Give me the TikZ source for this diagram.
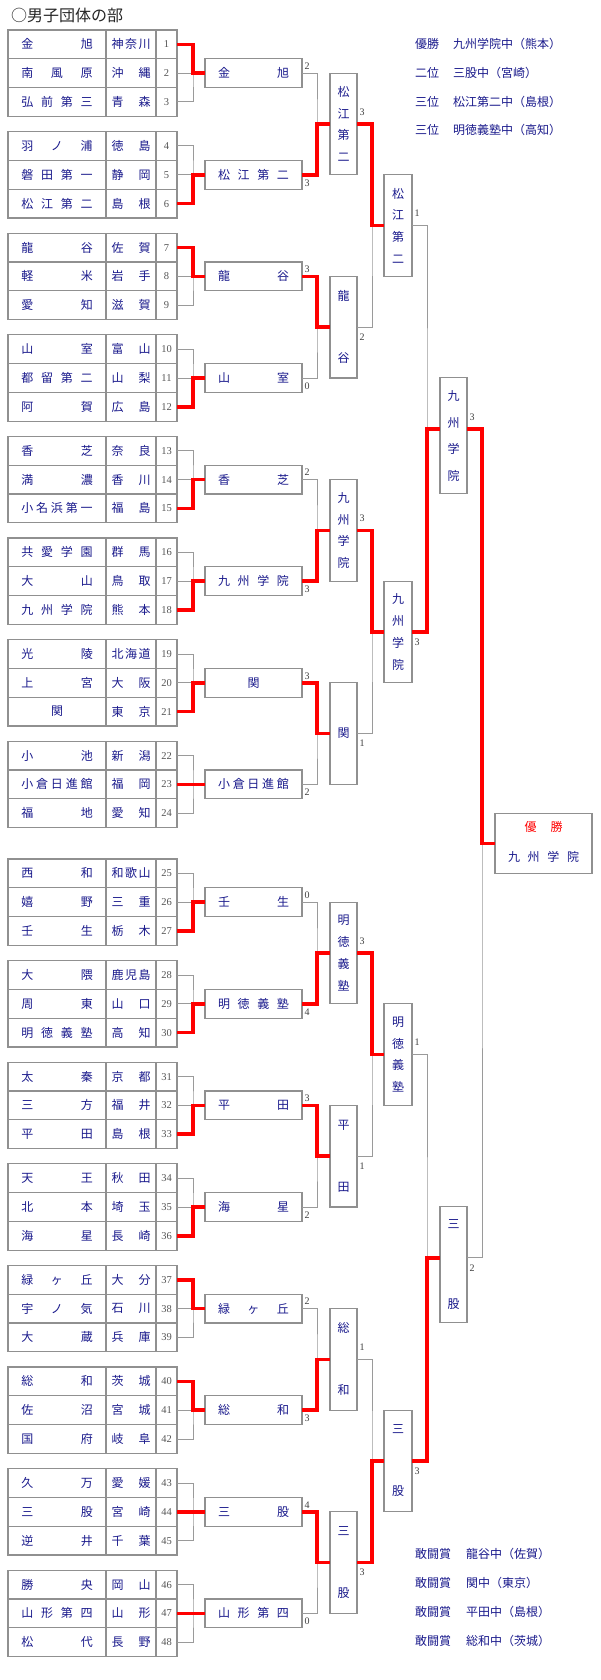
\documentclass[tikz,border=0pt]{standalone}
\usepackage{fontspec}
\setmainfont{Liberation Serif}
\newfontfamily\jp{Noto Sans CJK JP}
\usetikzlibrary{calc}
\definecolor{navy}{HTML}{1A1A8C}
\definecolor{lgray}{HTML}{9A9A9A}
\definecolor{bgray}{HTML}{909090}
\definecolor{numgray}{HTML}{555555}
\tikzset{
 bx/.style={draw=bgray, line width=1.2pt, inner sep=0pt, outer sep=0pt, text=navy, font=\jp\fontsize{12}{12}\selectfont},
 namecell/.style={bx, minimum width=98pt, minimum height=28.8pt},
 prefcell/.style={bx, minimum width=50pt, minimum height=28.8pt},
 numcell/.style={bx, minimum width=21pt, minimum height=28.8pt, text=numgray, font=\fontsize{10.5}{10.5}\selectfont},
 wbox/.style={bx, minimum width=97pt, minimum height=28.8pt},
 vbox/.style={bx, minimum width=27pt, align=center},
 gl/.style={draw=lgray, line width=1pt},
 rl/.style={draw=red, line width=3.6pt},
 score/.style={inner sep=0pt, text=black!75, font=\fontsize{10}{10}\selectfont},
 info/.style={anchor=west, inner sep=0pt, text=navy, font=\jp\fontsize{12}{12}\selectfont},
}
\begin{document}
\begin{tikzpicture}[x=1pt,y=-1pt]
\fill[white] (0,0) rectangle (600,1680);
\useasboundingbox (0,0) rectangle (600,1680);
\node[anchor=west, inner sep=0pt, text=black!85, font=\jp\fontsize{16}{16}\selectfont] (title) at (11,15) {○男子団体の部};

\foreach \k/\na/\pa/\nb/\pb/\nc/\pc/\win/\wt in {
0/金\hfill 旭/神\hfill 奈\hfill 川/南\hfill 風\hfill 原/沖\hfill 縄/弘\hfill 前\hfill 第\hfill 三/青\hfill 森/0/金\hfill 旭,
1/羽\hfill ノ\hfill 浦/徳\hfill 島/磐\hfill 田\hfill 第\hfill 一/静\hfill 岡/松\hfill 江\hfill 第\hfill 二/島\hfill 根/2/松\hfill 江\hfill 第\hfill 二,
2/龍\hfill 谷/佐\hfill 賀/軽\hfill 米/岩\hfill 手/愛\hfill 知/滋\hfill 賀/0/龍\hfill 谷,
3/山\hfill 室/富\hfill 山/都\hfill 留\hfill 第\hfill 二/山\hfill 梨/阿\hfill 賀/広\hfill 島/2/山\hfill 室,
4/香\hfill 芝/奈\hfill 良/満\hfill 濃/香\hfill 川/小\hfill 名\hfill 浜\hfill 第\hfill 一/福\hfill 島/2/香\hfill 芝,
5/共\hfill 愛\hfill 学\hfill 園/群\hfill 馬/大\hfill 山/鳥\hfill 取/九\hfill 州\hfill 学\hfill 院/熊\hfill 本/2/九\hfill 州\hfill 学\hfill 院,
6/光\hfill 陵/北\hfill 海\hfill 道/上\hfill 宮/大\hfill 阪/\hfill 関\hfill/東\hfill 京/2/\hfill 関\hfill,
7/小\hfill 池/新\hfill 潟/小\hfill 倉\hfill 日\hfill 進\hfill 館/福\hfill 岡/福\hfill 地/愛\hfill 知/1/小\hfill 倉\hfill 日\hfill 進\hfill 館,
8/西\hfill 和/和\hfill 歌\hfill 山/嬉\hfill 野/三\hfill 重/壬\hfill 生/栃\hfill 木/2/壬\hfill 生,
9/大\hfill 隈/鹿\hfill 児\hfill 島/周\hfill 東/山\hfill 口/明\hfill 徳\hfill 義\hfill 塾/高\hfill 知/2/明\hfill 徳\hfill 義\hfill 塾,
10/太\hfill 秦/京\hfill 都/三\hfill 方/福\hfill 井/平\hfill 田/島\hfill 根/2/平\hfill 田,
11/天\hfill 王/秋\hfill 田/北\hfill 本/埼\hfill 玉/海\hfill 星/長\hfill 崎/2/海\hfill 星,
12/緑\hfill ヶ\hfill 丘/大\hfill 分/宇\hfill ノ\hfill 気/石\hfill 川/大\hfill 蔵/兵\hfill 庫/0/緑\hfill ヶ\hfill 丘,
13/総\hfill 和/茨\hfill 城/佐\hfill 沼/宮\hfill 城/国\hfill 府/岐\hfill 阜/0/総\hfill 和,
14/久\hfill 万/愛\hfill 媛/三\hfill 股/宮\hfill 崎/逆\hfill 井/千\hfill 葉/1/三\hfill 股,
15/勝\hfill 央/岡\hfill 山/山\hfill 形\hfill 第\hfill 四/山\hfill 形/松\hfill 代/長\hfill 野/1/山\hfill 形\hfill 第\hfill 四}{
  \pgfmathsetmacro\T{30+101.6*\k+16.2*(\k>7)}
  \pgfmathtruncatemacro\nA{3*\k+1}
  \pgfmathtruncatemacro\nB{3*\k+2}
  \pgfmathtruncatemacro\nC{3*\k+3}
  \node[namecell] (nm-\k-0) at (57,{\T+14.4}) {\makebox[71.5pt][s]{\na}};
  \node[namecell] (nm-\k-1) at (57,{\T+43.2}) {\makebox[71.5pt][s]{\nb}};
  \node[namecell] (nm-\k-2) at (57,{\T+72}) {\makebox[71.5pt][s]{\nc}};
  \node[prefcell] (pf-\k-0) at (131,{\T+14.4}) {\makebox[39pt][s]{\pa}};
  \node[prefcell] (pf-\k-1) at (131,{\T+43.2}) {\makebox[39pt][s]{\pb}};
  \node[prefcell] (pf-\k-2) at (131,{\T+72}) {\makebox[39pt][s]{\pc}};
  \node[numcell] (no-\k-0) at (166.5,{\T+14.4}) {\nA};
  \node[numcell] (no-\k-1) at (166.5,{\T+43.2}) {\nB};
  \node[numcell] (no-\k-2) at (166.5,{\T+72}) {\nC};
  \node[wbox] (w-\k) at (253.5,{\T+43.2}) {\makebox[71pt][s]{\wt}};
  \coordinate (j-\k) at (193,{\T+43.2});
  \draw[gl] (no-\k-0.east) -| (j-\k) |- (no-\k-2.east);
  \draw[gl] (no-\k-1.east) -- (w-\k.west);
  \ifnum\win=1
    \draw[rl] (no-\k-1.east) -- (w-\k.west);
  \else
    \draw[rl] (no-\k-\win.east) -| (j-\k) -- (w-\k.west);
  \fi
}

% second round
\foreach \p/\txt/\bs/\sa/\sb/\win in {
0/松\\江\\第\\二/21.7/2/3/1,
1/龍\\谷/62/3/0/0,
2/九\\州\\学\\院/21.7/2/3/1,
3/関/12/3/2/0,
4/明\\徳\\義\\塾/21.7/0/4/1,
5/平\\田/62/3/2/0,
6/総\\和/62/2/3/1,
7/三\\股/62/4/0/0}{
  \pgfmathsetmacro\M{124+203.2*\p+16.2*(\p>3)}
  \pgfmathtruncatemacro\ga{2*\p}
  \pgfmathtruncatemacro\gb{2*\p+1}
  \node[vbox, minimum height=101.6pt, font=\jp\fontsize{12}{\bs}\selectfont] (s-\p) at (343.5,\M) {\txt};
  \coordinate (cs-\p) at (317,\M);
  \draw[gl] (w-\ga.east) -| (cs-\p) |- (w-\gb.east);
  \draw[gl] (cs-\p) -- (s-\p.west);
  \ifnum\win=0
    \draw[rl] (w-\ga.east) -| (cs-\p) -- (s-\p.west);
  \else
    \draw[rl] (w-\gb.east) -| (cs-\p) -- (s-\p.west);
  \fi
  \node[score] (sw-\ga) at ($(w-\ga.east)+(5,-7)$) {\sa};
  \node[score] (sw-\gb) at ($(w-\gb.east)+(5,8)$) {\sb};
}

% third round
\foreach \q/\txt/\bs/\sa/\sb/\win in {
0/松\\江\\第\\二/21.7/3/2/0,
1/九\\州\\学\\院/21.7/3/1/0,
2/明\\徳\\義\\塾/21.7/3/1/0,
3/三\\股/62/1/3/1}{
  \pgfmathsetmacro\M{225.6+406.4*\q+16.2*(\q>1)}
  \pgfmathtruncatemacro\ga{2*\q}
  \pgfmathtruncatemacro\gb{2*\q+1}
  \node[vbox, minimum width=28pt, minimum height=101.6pt, font=\jp\fontsize{12}{\bs}\selectfont] (t-\q) at (398,\M) {\txt};
  \coordinate (ct-\q) at (372,\M);
  \draw[gl] (s-\ga.east) -| (ct-\q) |- (s-\gb.east);
  \draw[gl] (ct-\q) -- (t-\q.west);
  \ifnum\win=0
    \draw[rl] (s-\ga.east) -| (ct-\q) -- (t-\q.west);
  \else
    \draw[rl] (s-\gb.east) -| (ct-\q) -- (t-\q.west);
  \fi
  \node[score] (ss-\ga) at ($(s-\ga.east)+(5,-12)$) {\sa};
  \node[score] (ss-\gb) at ($(s-\gb.east)+(5,10)$) {\sb};
}

% semifinal
\foreach \h/\txt/\bs/\sa/\sb/\win in {
0/九\\州\\学\\院/26.5/1/3/1,
1/三\\股/80/1/3/1}{
  \pgfmathsetmacro\M{428.8+829*\h}
  \pgfmathtruncatemacro\ga{2*\h}
  \pgfmathtruncatemacro\gb{2*\h+1}
  \node[vbox, minimum height=116pt, font=\jp\fontsize{12}{\bs}\selectfont] (u-\h) at (453.5,{\M+7}) {\txt};
  \coordinate (ui-\h) at (440,\M);
  \coordinate (uo-\h) at (467,\M);
  \coordinate (cu-\h) at (427,\M);
  \draw[gl] (t-\ga.east) -| (cu-\h) |- (t-\gb.east);
  \draw[gl] (cu-\h) -- (ui-\h);
  \ifnum\win=0
    \draw[rl] (t-\ga.east) -| (cu-\h) -- (ui-\h);
  \else
    \draw[rl] (t-\gb.east) -| (cu-\h) -- (ui-\h);
  \fi
  \node[score] (st-\ga) at ($(t-\ga.east)+(5,-12)$) {\sa};
  \node[score] (st-\gb) at ($(t-\gb.east)+(5,10)$) {\sb};
}

% final
\node[bx, minimum width=97pt, minimum height=60pt] (f) at (543.5,843.3) {};
\node[inner sep=0pt, text=red, font=\jp\fontsize{12}{12}\selectfont] (f-t) at (543.7,827) {\makebox[38pt][s]{優\hfill 勝}};
\node[inner sep=0pt, text=navy, font=\jp\fontsize{12}{12}\selectfont] (f-n) at (543.5,857) {\makebox[71pt][s]{九\hfill 州\hfill 学\hfill 院}};
\coordinate (cf) at (482,843.3);
\draw[gl] (uo-0) -| (cf) |- (uo-1);
\draw[gl] (cf) -- (f.west);
\draw[rl] (uo-0) -| (cf) -- (f.west);
\node[score] (su-0) at ($(uo-0)+(5,-12)$) {3};
\node[score] (su-1) at ($(uo-1)+(5,10)$) {2};

% results
\node[info] (r1a) at (415,44) {優勝};
\node[info] (r1b) at (453,44) {九州学院中（熊本）};
\node[info] (r2a) at (415,73) {二位};
\node[info] (r2b) at (453,73) {三股中（宮崎）};
\node[info] (r3a) at (415,101.5) {三位};
\node[info] (r3b) at (453,101.5) {松江第二中（島根）};
\node[info] (r4a) at (415,130) {三位};
\node[info] (r4b) at (453,130) {明徳義塾中（高知）};
\node[info] (k1a) at (415,1554) {敢闘賞};
\node[info] (k1b) at (466,1554) {龍谷中（佐賀）};
\node[info] (k2a) at (415,1583) {敢闘賞};
\node[info] (k2b) at (466,1583) {関中（東京）};
\node[info] (k3a) at (415,1612) {敢闘賞};
\node[info] (k3b) at (466,1612) {平田中（島根）};
\node[info] (k4a) at (415,1641) {敢闘賞};
\node[info] (k4b) at (466,1641) {総和中（茨城）};
\end{tikzpicture}
\end{document}
